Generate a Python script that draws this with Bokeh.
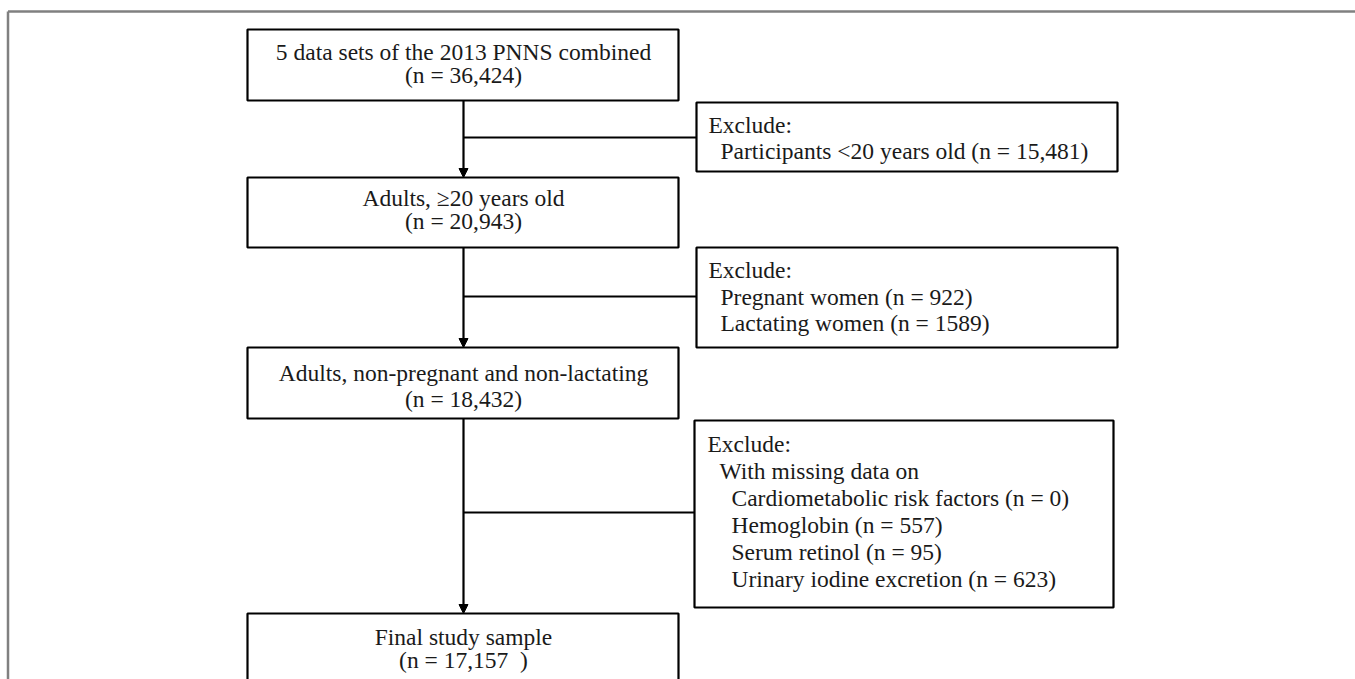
from bokeh.plotting import figure
from bokeh.models import Range1d, Arrow, NormalHead
from bokeh.core.properties import value
from bokeh.embed import file_html
from bokeh.resources import INLINE

# ---- data ----
main_labels = ["5 data sets of the 2013 PNNS combined",
               "Adults, \u226520 years old",
               "Adults, non-pregnant and non-lactating",
               "Final study sample"]
main_counts = ["36,424", "20,943", "18,432", "17,157\u00a0\u00a0"]

excl_titles = ["Exclude:", "Exclude:", "Exclude:"]
excl_1 = [("Participants <20 years old", "15,481")]
excl_2 = [("Pregnant women", "922"), ("Lactating women", "1589")]
excl_3_header = "With missing data on"
excl_3 = [("Cardiometabolic risk factors", "0"), ("Hemoglobin", "557"),
          ("Serum retinol", "95"), ("Urinary iodine excretion", "623")]

# ---- layout (pixel space) ----
W, H = 1355, 679
FONT = value("Liberation Serif")
FS = "23.5px"

p = figure(width=W, height=H, output_backend="svg", toolbar_location=None,
           x_range=Range1d(0, W), y_range=Range1d(H, 0), min_border=0)
p.axis.visible = False
p.grid.visible = False
p.outline_line_color = None
p.background_fill_color = "white"
p.border_fill_color = "white"

# outer frame (gray)
p.segment(x0=[7.5, 7.5], y0=[11, 11], x1=[7.5, 1400], y1=[720, 11],
          line_color="#808080", line_width=2.5)

# main boxes
mx0, mx1, cx = 247, 678, 463
main_top = [29, 177, 347, 613]
main_bot = [100, 247, 418, 740]
p.quad(left=[mx0] * 4, right=[mx1] * 4, top=main_top, bottom=main_bot,
       fill_color="white", line_color="black", line_width=2.2)

line1_y = [51, 197, 372, 636]
line2_y = [74, 220, 398, 659]
p.text(x=[cx] * 4, y=line1_y, text=main_labels, text_font=FONT,
       text_font_size=FS, text_align="center", text_baseline="middle",
       text_color="#1a1a1a")
p.text(x=[cx] * 4, y=line2_y, text=["(n = %s)" % c for c in main_counts],
       text_font=FONT, text_font_size=FS, text_align="center",
       text_baseline="middle", text_color="#1a1a1a")

# vertical arrows between main boxes
for i in range(3):
    p.add_layout(Arrow(end=NormalHead(size=9, fill_color="black", line_color="black"),
                       x_start=cx, y_start=main_bot[i], x_end=cx, y_end=main_top[i + 1],
                       line_color="black", line_width=2.2))

# exclusion boxes
ex_left = [696, 696, 694]
ex_right = [1117, 1117, 1113]
ex_top = [102, 247, 420]
ex_bot = [171, 347, 607]
branch_y = [137, 296, 512]
p.quad(left=ex_left, right=ex_right, top=ex_top, bottom=ex_bot,
       fill_color="white", line_color="black", line_width=2.2)
p.segment(x0=[cx] * 3, y0=branch_y, x1=ex_left, y1=branch_y,
          line_color="black", line_width=2.2)

# exclusion texts
tx, ty, tt = [], [], []
tx += [708, 720]; ty += [124, 150]
tt += [excl_titles[0]] + ["%s (n = %s)" % e for e in excl_1]
tx += [708, 720, 720]; ty += [269, 296, 322]
tt += [excl_titles[1]] + ["%s (n = %s)" % e for e in excl_2]
tx += [707, 719] + [731] * 4
ty += [443, 470, 497, 524, 551, 578]
tt += [excl_titles[2], excl_3_header] + ["%s (n = %s)" % e for e in excl_3]

p.text(x=tx, y=ty, text=tt, text_font=FONT, text_font_size=FS,
       text_align="left", text_baseline="middle", text_color="#1a1a1a")

open("out.html", "w").write(file_html(p, INLINE))
